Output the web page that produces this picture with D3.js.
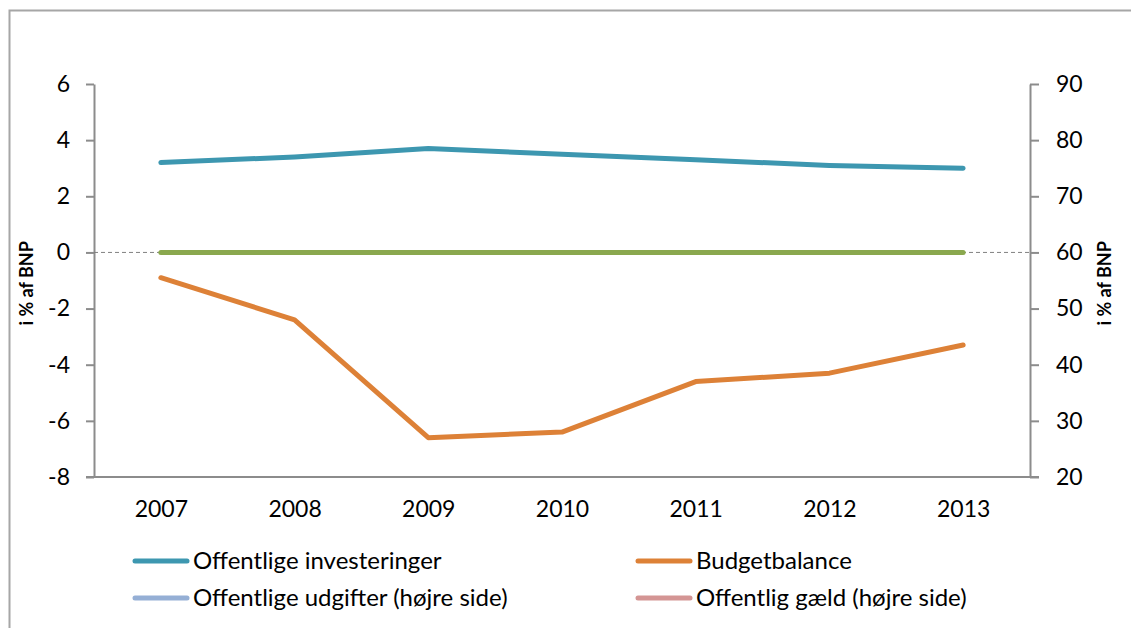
<!DOCTYPE html>
<html>
<head>
<meta charset="utf-8">
<script src="https://cdn.jsdelivr.net/npm/d3@7"></script>
<style>
  body { margin: 0; background: #fff; }
  svg { display: block; font-family: Lato, "Open Sans", sans-serif; }
</style>
</head>
<body>
<svg width="1131" height="628"></svg>
<script>
// years on the x axis
const years = ["2007", "2008", "2009", "2010", "2011", "2012", "2013"];

// left axis series (i % af BNP)
const investeringer = [3.2, 3.4, 3.7, 3.5, 3.3, 3.1, 3.0];
const budgetbalance = [-0.9, -2.4, -6.6, -6.4, -4.6, -4.3, -3.3];
const nulLinje = [0, 0, 0, 0, 0, 0, 0];

// tick values
const leftTicks = [-8, -6, -4, -2, 0, 2, 4, 6];
const rightTicks = [20, 30, 40, 50, 60, 70, 80, 90];

// legend entries
const legendNames = ["Offentlige investeringer", "Budgetbalance",
  "Offentlige udgifter (højre side)", "Offentlig gæld (højre side)"];
const legendColors = ["#3d97b0", "#dd8137", "#95afd5", "#d49594"];

var width = 1131;
var height = 628;
// plot area edges
var plotL = 94, plotR = 1030, plotT = 84, plotB = 477;
var fontSize = 23;

var svg = d3.select("svg");

// outer frame
svg.append("rect")
  .attr("x", 9.5).attr("y", 10.5)
  .attr("width", 1200).attr("height", 800)
  .attr("fill", "none").attr("stroke", "#a6a6a6").attr("stroke-width", 2);

// scales
let xScale = d3.scalePoint().domain(years).range([plotL, plotR]).padding(0.5);
let yLeft = d3.scaleLinear().domain([-8, 6]).range([plotB, plotT]);
let yRight = d3.scaleLinear().domain([20, 90]).range([plotB, plotT]);

// plain hyphen for negatives, like the original
let plain = d => String(d);

// left axis
let yAxisL = d3.axisLeft(yLeft).tickValues(leftTicks).tickFormat(plain)
  .tickSize(8).tickPadding(16).tickSizeOuter(0);
let gL = svg.append("g").attr("transform", "translate(" + plotL + ",0)").call(yAxisL);

// right axis
let yAxisR = d3.axisRight(yRight).tickValues(rightTicks).tickFormat(plain)
  .tickSize(9).tickPadding(17).tickSizeOuter(0);
let gR = svg.append("g").attr("transform", "translate(" + plotR + ",0)").call(yAxisR);

// x axis (no ticks)
let xAxis = d3.axisBottom(xScale).tickSize(0).tickPadding(24);
let gX = svg.append("g").attr("transform", "translate(0," + plotB + ")").call(xAxis);
gX.select(".domain").attr("d", "M" + (plotL - 8) + ",0H" + (plotR + 9));

[gL, gR, gX].forEach(g => {
  g.selectAll(".domain, line").attr("stroke", "#8c8c8c").attr("stroke-width", 2);
  g.selectAll("text").attr("font-size", fontSize).attr("fill", "#000")
    .attr("font-family", "Lato, 'Open Sans', sans-serif");
});

// dashed zero line
svg.append("line")
  .attr("x1", plotL).attr("x2", plotR)
  .attr("y1", yLeft(0)).attr("y2", yLeft(0))
  .attr("stroke", "#808080").attr("stroke-width", 1)
  .attr("stroke-dasharray", "4,3");

// lines
let line = d3.line().x((d, i) => xScale(years[i])).y(d => yLeft(d));

const series = [
  { values: nulLinje, color: "#8aa84e" },
  { values: investeringer, color: "#3d97b0" },
  { values: budgetbalance, color: "#dd8137" }
];

series.forEach(s => {
  svg.append("path")
    .datum(s.values)
    .attr("d", line)
    .attr("fill", "none")
    .attr("stroke", s.color)
    .attr("stroke-width", 5)
    .attr("stroke-linecap", "round")
    .attr("stroke-linejoin", "round");
});

// axis titles
svg.append("text")
  .style("font-size", "18px").style("font-weight", "bold")
  .attr("text-anchor", "middle")
  .attr("transform", "translate(33," + yLeft(-1.1) + ") rotate(-90)")
  .text("i % af BNP");

svg.append("text")
  .style("font-size", "18px").style("font-weight", "bold")
  .attr("text-anchor", "middle")
  .attr("transform", "translate(1111," + yLeft(-1.1) + ") rotate(-90)")
  .text("i % af BNP");

// legend
const legX = [133, 636];
const legY = [561, 598];
legendNames.forEach((name, i) => {
  let lx = legX[i % 2], ly = legY[Math.floor(i / 2)];
  svg.append("line")
    .attr("x1", lx + 2).attr("x2", lx + 54)
    .attr("y1", ly).attr("y2", ly)
    .attr("stroke", legendColors[i]).attr("stroke-width", 5)
    .attr("stroke-linecap", "round");
  svg.append("text")
    .attr("x", lx + 60).attr("y", ly)
    .attr("dy", "0.35em")
    .style("font-size", "24px")
    .text(name);
});
</script>
</body>
</html>
